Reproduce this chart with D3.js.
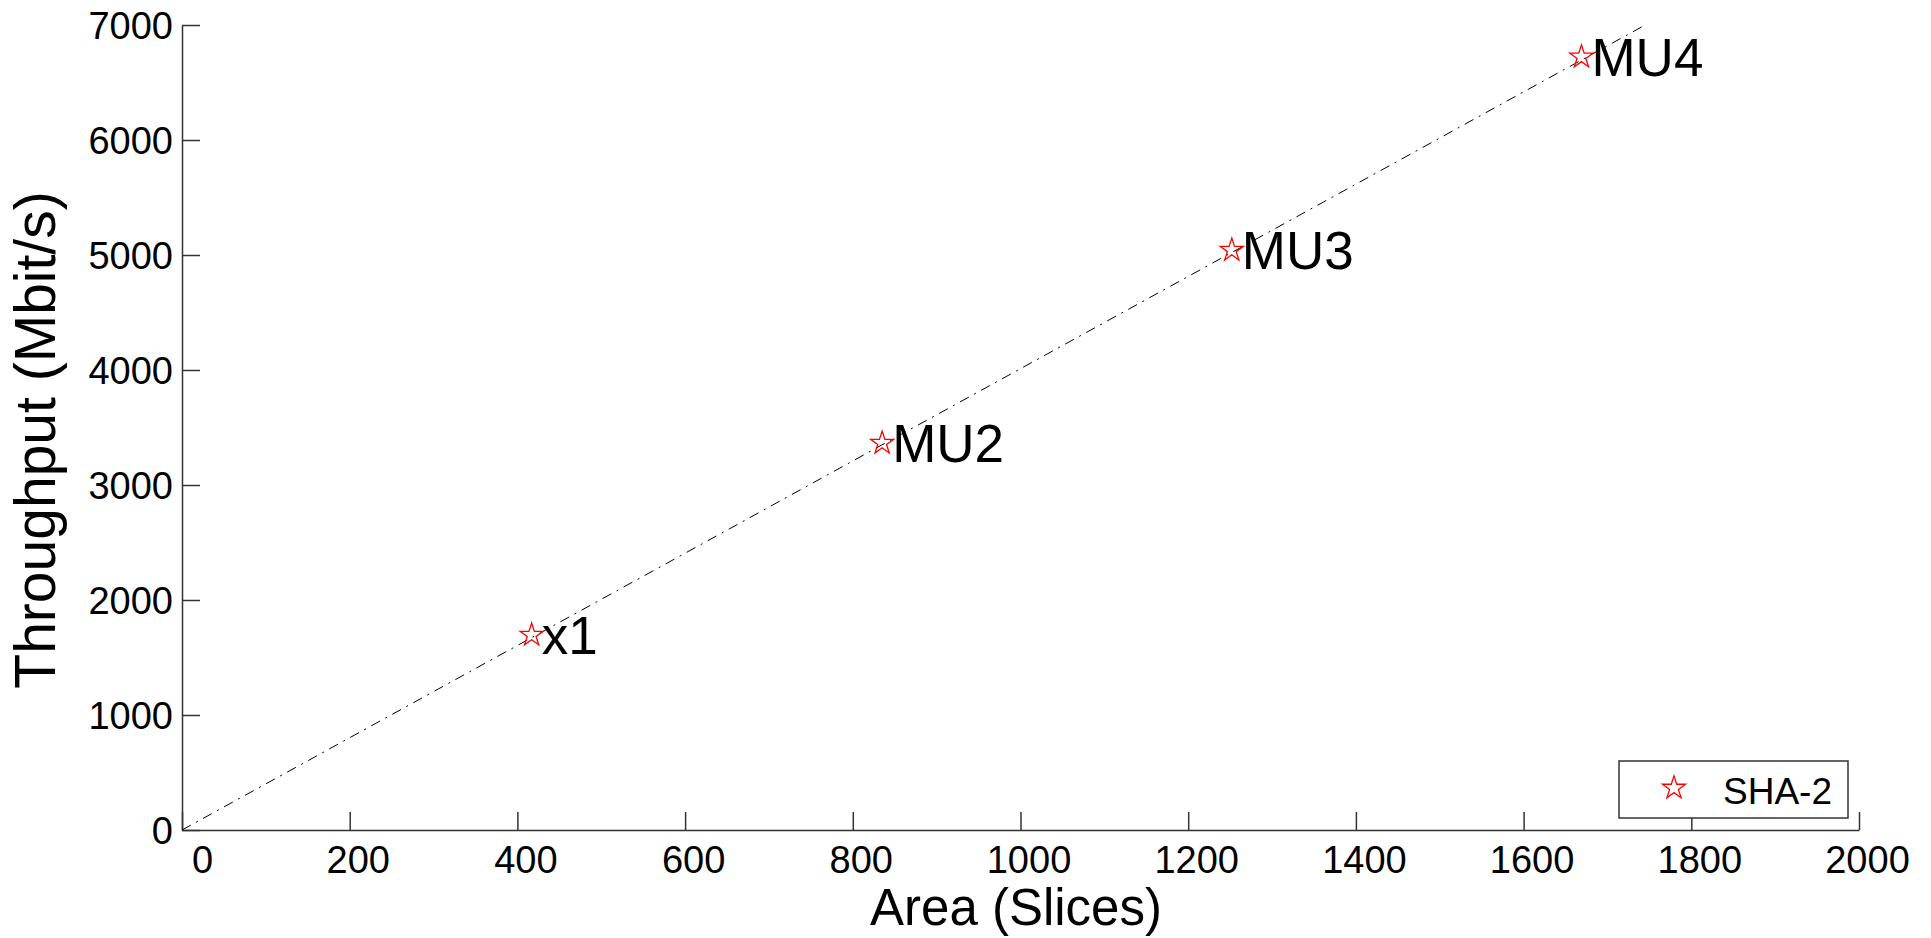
<!DOCTYPE html>
<html>
<head>
<meta charset="utf-8">
<script src="https://cdn.jsdelivr.net/npm/d3@7"></script>
<style>
  body { margin: 0; background: #fff; }
  svg { display: block; font-family: "Liberation Sans", Arial, sans-serif; }
</style>
</head>
<body>
<div id="chart"></div>
<script>
// data
var areaSlices = [417, 835, 1252, 1669];
var throughput = [1695, 3364, 5042, 6722];
var pointLabels = ["x1", "MU2", "MU3", "MU4"];
var fitX = [0, 1745];
var fitY = [0, 7000];
var xTicks = [0, 200, 400, 600, 800, 1000, 1200, 1400, 1600, 1800, 2000];
var yTicks = [0, 1000, 2000, 3000, 4000, 5000, 6000, 7000];
var seriesName = "SHA-2";

var W = 1931, H = 938;

var svg = d3.select("#chart").append("svg")
  .attr("width", W)
  .attr("height", H);

var x = d3.scaleLinear().domain([0, 2000]).range([182, 1859]);
var y = d3.scaleLinear().domain([0, 7000]).range([830, 25]);

var axisColor = "#333";

// x axis (ticks pointing inward)
var gx = svg.append("g")
  .attr("transform", "translate(0," + y(0) + ")")
  .call(d3.axisBottom(x).tickValues(xTicks).tickSize(-18).tickSizeOuter(0).tickPadding(0).tickFormat(d3.format("d")));
gx.select(".domain").attr("stroke", axisColor).attr("stroke-width", 1.5);
gx.selectAll(".tick line").attr("stroke", axisColor).attr("stroke-width", 1.5);
gx.selectAll(".tick text")
  .attr("fill", "#000")
  .attr("font-size", 38)
  .attr("dx", d => d === 0 ? 20 : 8)
  .attr("y", 43)
  .attr("dy", 0);

// y axis
var gy = svg.append("g")
  .attr("transform", "translate(" + x(0) + ",0)")
  .call(d3.axisLeft(y).tickValues(yTicks).tickSize(-18).tickSizeOuter(0).tickPadding(0).tickFormat(d3.format("d")));
gy.select(".domain").attr("stroke", axisColor).attr("stroke-width", 1.5);
gy.selectAll(".tick line").attr("stroke", axisColor).attr("stroke-width", 1.5);
gy.selectAll(".tick text")
  .attr("fill", "#000")
  .attr("font-size", 38)
  .attr("x", -9)
  .attr("dy", "0.36em");

// axis titles
svg.append("text")
  .attr("x", 1016)
  .attr("y", 925)
  .attr("text-anchor", "middle")
  .attr("font-size", 51)
  .text("Area (Slices)");

svg.append("text")
  .attr("transform", "translate(55,440) rotate(-90)")
  .attr("text-anchor", "middle")
  .attr("font-size", 57)
  .text("Throughput (Mbit/s)");

// dash-dot fit line
var line = d3.line().x(d => x(d[0])).y(d => y(d[1]));
svg.append("path")
  .datum(d3.zip(fitX, fitY))
  .attr("d", line)
  .attr("fill", "none")
  .attr("stroke", "#000")
  .attr("stroke-width", 1)
  .attr("stroke-dasharray", "10,6,2,6");

// star markers
var star = d3.symbol().type(d3.symbolStar).size(165);
var pts = d3.zip(areaSlices, throughput, pointLabels);

svg.append("g")
  .selectAll("path")
  .data(pts)
  .enter()
  .append("path")
    .attr("transform", d => "translate(" + x(d[0]) + "," + y(d[1]) + ")")
    .attr("d", star)
    .attr("fill", "none")
    .attr("stroke", "#ff0000")
    .attr("stroke-width", 1.3);

svg.append("g")
  .selectAll("text")
  .data(pts)
  .enter()
  .append("text")
    .attr("x", d => x(d[0]) + 10)
    .attr("y", d => y(d[1]) + 19)
    .attr("font-size", 53)
    .text(d => d[2]);

// legend
var leg = svg.append("g").attr("transform", "translate(1619,761)");
leg.append("rect")
  .attr("width", 229)
  .attr("height", 57)
  .attr("fill", "#fff")
  .attr("stroke", axisColor)
  .attr("stroke-width", 1.5);
leg.append("path")
  .attr("transform", "translate(55,27)")
  .attr("d", star)
  .attr("fill", "none")
  .attr("stroke", "#ff0000")
  .attr("stroke-width", 1.3);
leg.append("text")
  .attr("x", 104)
  .attr("y", 43)
  .attr("font-size", 37)
  .text(seriesName);
</script>
</body>
</html>
